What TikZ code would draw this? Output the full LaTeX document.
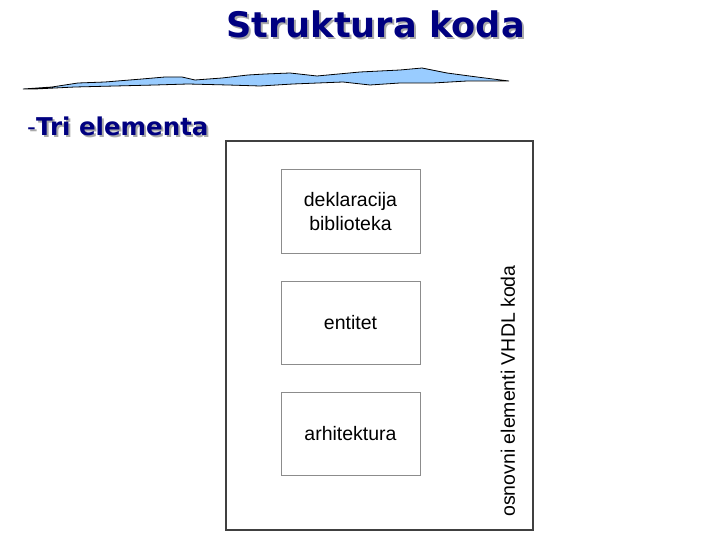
\documentclass[tikz,border=0pt]{standalone}
\usepackage{fontspec}
\setmainfont{Liberation Sans}
\newfontfamily\titlefont{DejaVu Sans}[BoldFont={DejaVu Sans Bold}]
\definecolor{navy}{RGB}{0,0,128}
\definecolor{shade}{RGB}{170,170,170}
\definecolor{wave}{RGB}{153,204,255}
\definecolor{outerc}{RGB}{64,64,64}
\definecolor{innerc}{RGB}{140,140,140}
\newcommand{\shadowtext}[1]{\rlap{\hspace{2pt}\raisebox{-2pt}{\color{shade}#1}}{\color{navy}#1}}
\tikzset{
  titletext/.style={font=\titlefont\bfseries\fontsize{35.2}{38}\selectfont, inner sep=0pt},
  subtext/.style={font=\titlefont\bfseries\fontsize{24.5}{28}\selectfont, inner sep=0pt, anchor=west},
  elem/.style={draw=innerc, line width=1pt, minimum width=139pt, minimum height=83pt, inner sep=0pt, align=center, font=\fontsize{19.5}{24}\selectfont},
  outerbox/.style={draw=outerc, line width=2pt}
}
\begin{document}
\begin{tikzpicture}[x=1pt,y=-1pt]
\useasboundingbox (0,0) rectangle (720,540);
% title
\node[titletext] (tt) at (375.5,25) {\shadowtext{Struktura koda}};
% wave
\draw[fill=wave, draw=black, line width=0.8pt]
  (23,89) -- (52,87) -- (78,83) -- (105,82) -- (142,79) -- (165,77) -- (182,77)
  -- (195,80) -- (222,78) -- (248,75) -- (265,74) -- (290,73) -- (317,76)
  -- (360,72) -- (400,70) -- (422,68) -- (447,73) -- (477,77) -- (509,81)
  -- (467,81) -- (433,83) -- (400,83) -- (370,85) -- (343,82) -- (293,84)
  -- (260,86) -- (228,85) -- (188,84) -- (155,85) -- (115,86) -- (75,87) -- (35,89) -- cycle;
% subtitle
\node[subtext] (st) at (27,127) {\shadowtext{\mdseries-\bfseries Tri elementa}};
% outer box
\draw[outerbox] (226,141) rectangle (533,530);
\node[elem] (lib) at (350.5,211.5) {deklaracija\\biblioteka};
\node[elem] (ent) at (350.5,322.5) {entitet};
\node[elem] (arh) at (350.5,433.5) {arhitektura};
\node[rotate=90, inner sep=0pt, font=\fontsize{19.5}{24}\selectfont] (lab) at (508,391) {osnovni elementi VHDL koda};
\end{tikzpicture}
\end{document}
